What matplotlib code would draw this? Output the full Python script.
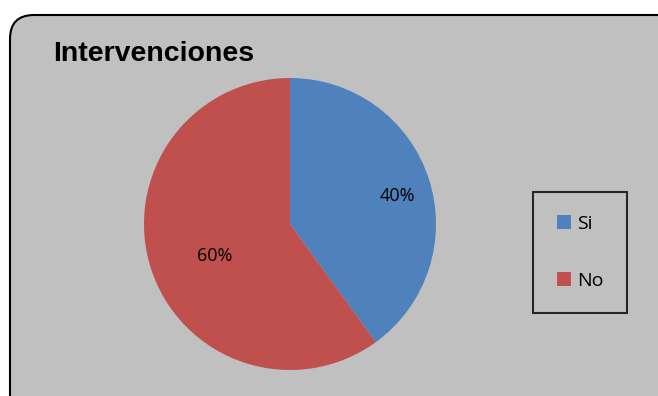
import matplotlib.pyplot as plt
from matplotlib.patches import FancyBboxPatch

# chart data
labels = ["Si", "No"]
values = [40, 60]
colors = ["#4F81BD", "#C0504D"]
title = "Intervenciones"

W, H = 658, 396
fig = plt.figure(figsize=(W / 100, H / 100), dpi=100)
fig.patch.set_facecolor("white")

# rounded chart area (runs off the right/bottom edge like the original), in inches
box = FancyBboxPatch((0.10, -0.30), 6.80, (H - 15) / 100 + 0.30,
                     boxstyle="round,pad=0,rounding_size=0.24",
                     transform=fig.dpi_scale_trans, facecolor="#C0C0C0",
                     edgecolor="black", linewidth=1.5, zorder=-10)
fig.patches.append(box)

fig.text(53 / W, 1 - 54 / H, title, fontsize=20.5, fontweight="bold",
         family="Liberation Sans", va="center", ha="left")

cx, cy, r = 290, 224, 146
ax = fig.add_axes([(cx - r) / W, (H - cy - r) / H, 2 * r / W, 2 * r / H])
ax.patch.set_visible(False)
wedges, texts, autotexts = ax.pie(values, colors=colors, startangle=90,
                                  counterclock=False, radius=1,
                                  autopct="%d%%", pctdistance=0.76,
                                  textprops=dict(fontsize=13, family="Open Sans"))
ax.set_xlim(-1, 1)
ax.set_ylim(-1, 1)
ax.set_aspect("equal")
ax.axis("off")

# Excel-like label spots (the bigger slice's label sits nearer the centre)
autotexts[0].set_position((0.733, 0.19))
autotexts[1].set_position((-0.517, -0.216))

leg = fig.legend(wedges, labels, loc="center", bbox_to_anchor=(580 / W, 1 - 252.5 / H),
                 frameon=True, fancybox=False, edgecolor="black", facecolor="#C0C0C0",
                 prop=dict(family="Open Sans", size=14), handlelength=0.75,
                 handleheight=0.75, handletextpad=0.3, labelspacing=2.0,
                 borderpad=1.2, borderaxespad=0)
leg.get_frame().set_linewidth(1.5)

fig.savefig("out.png", dpi=100, facecolor="white")
